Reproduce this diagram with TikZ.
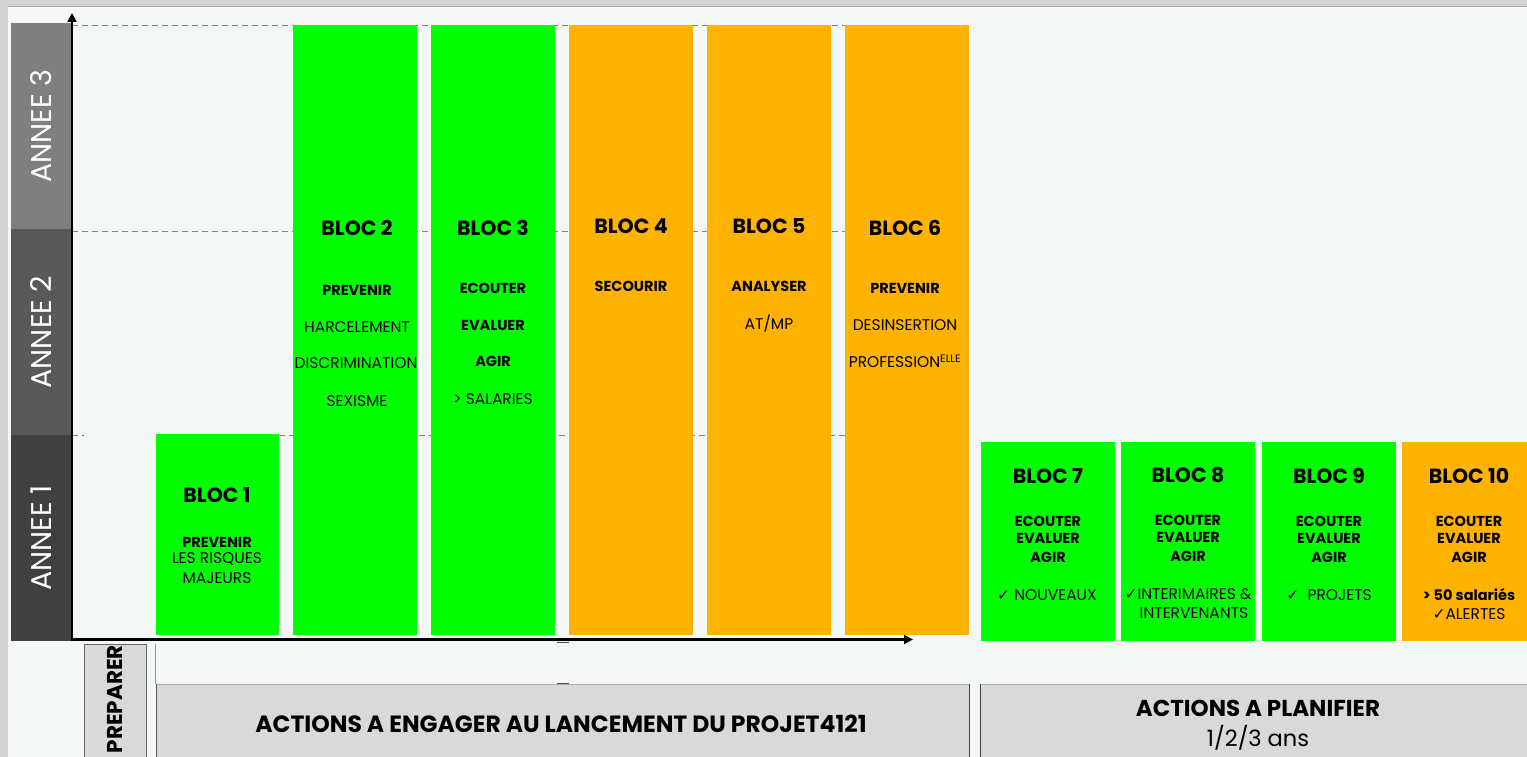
\documentclass[tikz,border=0pt]{standalone}
\usepackage{fontspec}
\setmainfont{Poppins}
\newfontfamily\dejavu{DejaVu Sans}
\usetikzlibrary{arrows.meta}
\definecolor{bg}{HTML}{F3F7F6}
\definecolor{vert}{HTML}{00FF00}
\definecolor{orange}{HTML}{FFB300}
\definecolor{boxgray}{HTML}{D9D9D9}
\definecolor{an3}{HTML}{7F7F7F}
\definecolor{an2}{HTML}{595959}
\definecolor{an1}{HTML}{404040}
\definecolor{frame}{HTML}{D2D2D2}
\newcommand{\chk}{{\dejavu\char"2713}}
\tikzset{
  bloc/.style={rectangle, inner sep=0pt, draw=none},
  titre/.style={font=\fontsize{20.5}{20.5}\selectfont\bfseries, inner sep=0pt},
  verbe/.style={font=\fontsize{14.5}{14.5}\selectfont\bfseries, inner sep=0pt},
  mot/.style={font=\fontsize{15.5}{15.5}\selectfont, inner sep=0pt},
  annee/.style={rectangle, inner sep=0pt, minimum width=61pt, minimum height=206pt, text=white, font=\fontsize{28.5}{28.5}\selectfont},
  grille/.style={dashed, dash pattern=on 6pt off 4pt, draw=gray, line width=0.8pt},
  axe/.style={draw=black, -{Triangle[length=9pt,width=9pt]}},
  bandeau/.style={rectangle, inner sep=0pt, fill=boxgray}
}
\begin{document}
\begin{tikzpicture}[x=1pt,y=-1pt]
\useasboundingbox (0,0) rectangle (1527,757);
% background and window frame
\fill[bg] (0,0) rectangle (1527,757);
\fill[frame] (0,0) rectangle (1527,6);
\draw[draw=gray!70, line width=1pt] (8,6.5) -- (1527,6.5);
\fill[frame] (0,0) rectangle (8,757);
% year bands
\node[annee, fill=an3] (a3) at (41.5,126) {\rotatebox{90}{ANNEE 3}};
\node[annee, fill=an2] (a2) at (41.5,332) {\rotatebox{90}{ANNEE 2}};
\node[annee, fill=an1] (a1) at (41.5,538) {\rotatebox{90}{ANNEE 1}};
% grid lines
\coordinate (g3a) at (72,25); \coordinate (g3b) at (845,25);
\coordinate (g2a) at (72,231); \coordinate (g2b) at (845,231);
\coordinate (g1a) at (72,435); \coordinate (g1b) at (84,435);
\coordinate (g1c) at (279,435); \coordinate (g1d) at (845,435);
\draw[grille] (g3a) -- (g3b);
\draw[grille] (g2a) -- (g2b);
\draw[grille] (g1a) -- (g1b);
\draw[grille] (g1c) -- (g1d);
% blocs
\node[bloc, fill=vert, minimum width=123pt, minimum height=201pt] (b1) at (217.5,534.5) {};
\node[bloc, fill=vert, minimum width=124pt, minimum height=610pt] (b2) at (355,330) {};
\node[bloc, fill=vert, minimum width=124pt, minimum height=610pt] (b3) at (493,330) {};
\node[bloc, fill=orange, minimum width=124pt, minimum height=610pt] (b4) at (631,330) {};
\node[bloc, fill=orange, minimum width=124pt, minimum height=610pt] (b5) at (769,330) {};
\node[bloc, fill=orange, minimum width=124pt, minimum height=610pt] (b6) at (907,330) {};
\node[bloc, fill=vert, minimum width=134pt, minimum height=199pt] (b7) at (1048,541.5) {};
\node[bloc, fill=vert, minimum width=134pt, minimum height=199pt] (b8) at (1188,541.5) {};
\node[bloc, fill=vert, minimum width=134pt, minimum height=199pt] (b9) at (1329,541.5) {};
\node[bloc, fill=orange, minimum width=134pt, minimum height=199pt] (b10) at (1469,541.5) {};
% axes
\coordinate (o) at (72,641);
\coordinate (ytop) at (72,13);
\coordinate (ox) at (71,639.5);
\coordinate (xend) at (913,639.5);
\draw[axe, line width=2pt] (o) -- (ytop);
\draw[axe, line width=3.5pt] (ox) -- (xend);
% bloc texts
\node[titre] (t1) at (217,495) {BLOC 1};
\node[verbe] (t1a) at (217,542) {PREVENIR};
\node[mot] (t1b) at (217,559) {LES RISQUES};
\node[mot] (t1c) at (217,578) {MAJEURS};

\node[titre] (t2) at (357,228) {BLOC 2};
\node[verbe] (t2a) at (357,290) {PREVENIR};
\node[mot] (t2b) at (357,327) {HARCELEMENT};
\node[mot] (t2c) at (356,363) {DISCRIMINATION};
\node[mot] (t2d) at (357,401) {SEXISME};

\node[titre] (t3) at (493,228) {BLOC 3};
\node[verbe] (t3a) at (493,288) {ECOUTER};
\node[verbe] (t3b) at (493,325) {EVALUER};
\node[verbe] (t3c) at (493,361) {AGIR};
\node[mot] (t3d) at (493,399) {> SALARIES};

\node[titre] (t4) at (631,226) {BLOC 4};
\node[verbe] (t4a) at (631,286) {SECOURIR};

\node[titre] (t5) at (769,226) {BLOC 5};
\node[verbe] (t5a) at (769,286) {ANALYSER};
\node[mot] (t5b) at (769,324) {AT/MP};

\node[titre] (t6) at (905,228) {BLOC 6};
\node[verbe] (t6a) at (905,288) {PREVENIR};
\node[mot] (t6b) at (905,325) {DESINSERTION};
\node[mot] (t6c) at (905,361) {PROFESSION\textsuperscript{ELLE}};

\node[titre] (t7) at (1048,476) {BLOC 7};
\node[verbe] (t7a) at (1048,521) {ECOUTER};
\node[verbe] (t7b) at (1048,538) {EVALUER};
\node[verbe] (t7c) at (1048,557) {AGIR};
\node[mot] (t7d) at (1047,595) {\chk\ NOUVEAUX};

\node[titre] (t8) at (1188,475) {BLOC 8};
\node[verbe] (t8a) at (1188,520) {ECOUTER};
\node[verbe] (t8b) at (1188,537) {EVALUER};
\node[verbe] (t8c) at (1188,556) {AGIR};
\node[mot] (t8d) at (1188,594) {\chk INTERIMAIRES \&};
\node[mot] (t8e) at (1194,613) {INTERVENANTS};

\node[titre] (t9) at (1329,476) {BLOC 9};
\node[verbe] (t9a) at (1329,521) {ECOUTER};
\node[verbe] (t9b) at (1329,538) {EVALUER};
\node[verbe] (t9c) at (1329,557) {AGIR};
\node[mot] (t9d) at (1329,595) {\chk\ \ PROJETS};

\node[titre] (t10) at (1469,476) {BLOC 10};
\node[verbe] (t10a) at (1469,521) {ECOUTER};
\node[verbe] (t10b) at (1469,538) {EVALUER};
\node[verbe] (t10c) at (1469,557) {AGIR};
\node[verbe] (t10d) at (1469,595) {> 50 salariés};
\node[mot] (t10e) at (1469,614) {\chk ALERTES};
% bottom bands
\node[bandeau, draw=gray!80!black, line width=1pt, minimum width=62pt, minimum height=120pt, anchor=north west] (prep) at (84,644) {};
\node[font=\fontsize{21.5}{21.5}\selectfont\bfseries, inner sep=0pt, anchor=east, rotate=90] (preptxt) at (115,645) {PREPARER};
\coordinate (gl1) at (155.5,644); \coordinate (gl2) at (155.5,684);
\draw[vert, line width=0.8pt] (gl1) -- (gl2);
\node[bandeau, minimum width=813pt, minimum height=80pt, anchor=north west] (eng) at (156,684) {};
\draw[gray!60, line width=1pt] (eng.north west) -- (eng.north east);
\draw[gray!70!black, line width=1pt] (eng.north west) -- (eng.south west);
\draw[gray!50!black, line width=1pt] (eng.north east) -- (eng.south east);
\node[font=\fontsize{23.5}{23.5}\selectfont\bfseries, inner sep=0pt] (engtxt) at (561,724) {ACTIONS A ENGAGER AU LANCEMENT DU PROJET4121};
\node[bandeau, minimum width=550pt, minimum height=80pt, anchor=north west] (plan) at (980.5,684) {};
\draw[gray!50!black, line width=1pt] (plan.north west) -- (plan.south west);
\draw[gray!60, line width=1pt] (plan.north west) -- (plan.north east);
\node[font=\fontsize{23}{23}\selectfont\bfseries, inner sep=0pt] (plantxt) at (1258,708) {ACTIONS A PLANIFIER};
\node[font=\fontsize{22.5}{22.5}\selectfont, inner sep=0pt] (plantxt2) at (1258,738) {1/2/3 ans};
% small tick marks
\coordinate (k1) at (557,642.5); \coordinate (k2) at (569,642.5);
\coordinate (k3) at (557,683.5); \coordinate (k4) at (569,683.5);
\draw[gray!60!black, line width=1pt] (k1) -- (k2);
\draw[gray!60!black, line width=1pt] (k3) -- (k4);
\end{tikzpicture}
\end{document}
